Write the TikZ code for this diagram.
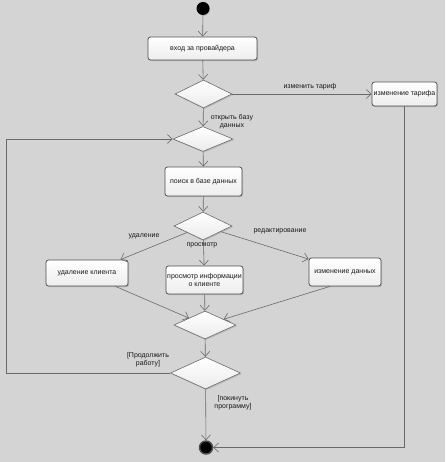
\documentclass[tikz,border=0pt]{standalone}
\usepackage{fontspec}
\setmainfont{Liberation Sans}
\usetikzlibrary{shapes.geometric,arrows.meta,shadows}
\definecolor{bg}{RGB}{212,212,212}
\definecolor{edgec}{RGB}{80,80,80}
\definecolor{linec}{RGB}{105,105,105}
\definecolor{txt}{RGB}{25,25,25}
\begin{document}
\begin{tikzpicture}[x=1pt,y=-1pt,
  every node/.style={font=\fontsize{7}{8}\selectfont, text=txt},
  act/.style={rectangle, rounded corners=2.5pt, draw=edgec, line width=0.8pt,
    top color=white, bottom color=gray!14, align=center, inner sep=1pt,
    drop shadow={opacity=0.35, shadow xshift=1pt, shadow yshift=-1.2pt}},
  dec/.style={diamond, draw=edgec!85, line width=0.6pt, top color=white,
    bottom color=gray!16, inner sep=0pt,
    drop shadow={opacity=0.3, shadow xshift=1pt, shadow yshift=-1.2pt}},
  flow/.style={draw=linec, line width=0.6pt, -{Straight Barb[length=5pt,width=9pt]}},
  lbl/.style={font=\fontsize{7}{8}\selectfont, align=center}
]
\useasboundingbox[fill=bg] (0,0) rectangle (445,462);

\node[circle, fill=black, minimum size=13pt, inner sep=0pt,
  drop shadow={opacity=0.3, shadow xshift=0.8pt, shadow yshift=-0.8pt}] (start) at (203,8.5) {};
\node[act, minimum width=109pt, minimum height=23pt] (login) at (202.5,48.5) {вход за провайдера};
\node[dec, minimum width=57pt, minimum height=28pt] (d1) at (203.5,94) {};
\node[act, minimum width=65pt, minimum height=24pt] (tariff) at (404.5,94) {изменение тарифа};
\node[dec, minimum width=60pt, minimum height=25pt] (d2) at (203,139) {};
\node[act, minimum width=77pt, minimum height=29pt] (search) at (203.5,181.5) {поиск в базе данных};
\node[dec, minimum width=58pt, minimum height=28pt] (d3) at (203,226) {};
\node[act, minimum width=82pt, minimum height=26pt] (del) at (87,273) {удаление клиента};
\node[act, minimum width=77pt, minimum height=28pt] (view) at (204.5,280) {просмотр информации\\о клиенте};
\node[act, minimum width=72pt, minimum height=28pt] (edit) at (345,272) {изменение данных};
\node[dec, minimum width=62pt, minimum height=28pt] (d4) at (205,325) {};
\node[dec, minimum width=70pt, minimum height=32pt] (d5) at (205.5,373) {};
\node[circle, fill=black, draw=gray!60!black, line width=1.4pt, minimum size=13pt, inner sep=0pt,
  drop shadow={opacity=0.3, shadow xshift=0.8pt, shadow yshift=-0.8pt}] (end) at (206,447.5) {};
\coordinate (loop) at (6,139);

\node[lbl] (lchange) at (310,87) {изменить тариф};
\node[lbl] (lopen) at (232,122) {открыть базу\\данных};
\node[lbl] (ldel) at (144,236) {удаление};
\node[lbl] (lview) at (202,245) {просмотр};
\node[lbl] (ledit) at (280,231) {редактирование};
\node[lbl] (lcont) at (148,360) {[Продолжить\\работу]};
\node[lbl] (lquit) at (233,403) {[покинуть\\программу]};

\draw[flow] (start) -- (login);
\draw[flow] (login) -- (d1);
\draw[flow] (d1) -- (tariff);
\draw[flow] (d1) -- (d2);
\draw[flow] (d2) -- (search);
\draw[flow] (search) -- (d3);
\draw[flow] (d3) -- ([xshift=-8pt]del.north east);
\draw[flow] (d3) -- (view);
\draw[flow] (d3) -- ([yshift=-1.5pt]edit.north west);
\draw[flow] ([xshift=-13pt]del.south east) -- (d4);
\draw[flow] (view) -- (d4);
\draw[flow] ([xshift=-15pt]edit.south) -- (d4);
\draw[flow] (d4) -- (d5);
\draw[flow] (d5) -- (end);
\draw[flow] (d5.west) -| (loop) -- (d2.west);
\draw[flow] (tariff.south) |- (end);
\end{tikzpicture}
\end{document}
